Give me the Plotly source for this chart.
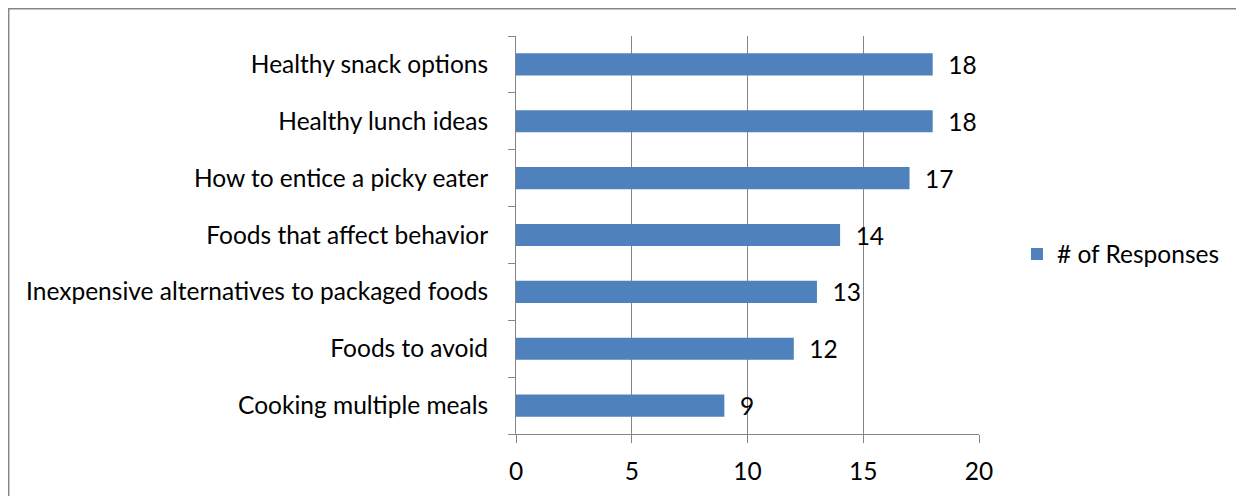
import plotly.graph_objects as go

categories = [
    "Cooking multiple meals",
    "Foods to avoid",
    "Inexpensive alternatives to packaged foods",
    "Foods that affect behavior",
    "How to entice a picky eater",
    "Healthy lunch ideas",
    "Healthy snack options",
]
responses = [9, 12, 13, 14, 17, 18, 18]
series_name = "# of Responses"
x_ticks = [0, 5, 10, 15, 20]

# page has an 8px body margin; figure pixel coords = screen - 8
OFF = 8
W, H = 1244, 496
L = 516 - OFF
T = 36 - OFF
R = W - (979 - OFF)
B = H - (434 - OFF)
pw, ph = W - L - R, H - T - B

FONT = "Lato, Calibri, Carlito, sans-serif"
FS = 24.5
GRID = "#868686"

fig = go.Figure()
fig.add_trace(go.Bar(
    x=responses, y=categories, orientation="h", name=series_name,
    marker=dict(color="#4F81BD", line=dict(width=0)),
    text=["\u00a0\u00a0" + str(v) for v in responses], textposition="outside",
    textfont=dict(size=FS, color="#000000", family=FONT),
    constraintext="none",
    cliponaxis=False, showlegend=True,
))

def px_x(p):
    return (p - OFF - L) / pw

def px_y(p):
    return (H - B - (p - OFF)) / ph

fig.add_shape(type="rect", xref="paper", yref="paper",
              x0=px_x(8.7), x1=px_x(1400), y0=px_y(600), y1=px_y(8.7),
              line=dict(color=GRID, width=1.5), fillcolor="rgba(0,0,0,0)", layer="below")

fig.update_layout(
    width=W, height=H,
    margin=dict(l=L, r=R, t=T, b=B, pad=0),
    paper_bgcolor="white", plot_bgcolor="white",
    font=dict(family=FONT, size=FS, color="#000000"),
    bargap=0.61,
    showlegend=True,
    legend=dict(x=px_x(1017), y=px_y(254), xanchor="left", yanchor="middle",
                font=dict(size=FS, family=FONT), bgcolor="rgba(0,0,0,0)",
                itemwidth=30),
    xaxis=dict(range=[0, 20], tickvals=x_ticks, showgrid=True, gridcolor=GRID, gridwidth=1,
               showline=True, linecolor=GRID, linewidth=1, ticks="outside", ticklen=8,
               tickcolor=GRID, zeroline=False, ticklabelstandoff=8,
               tickfont=dict(size=FS, family=FONT)),
    yaxis=dict(type="category", showline=True, linecolor=GRID, linewidth=1,
               ticks="outside", ticklen=7, tickcolor=GRID, tickson="boundaries",
               showgrid=False, ticklabelstandoff=22,
               tickfont=dict(size=FS, family=FONT)),
)

fig.write_html("out.html")
